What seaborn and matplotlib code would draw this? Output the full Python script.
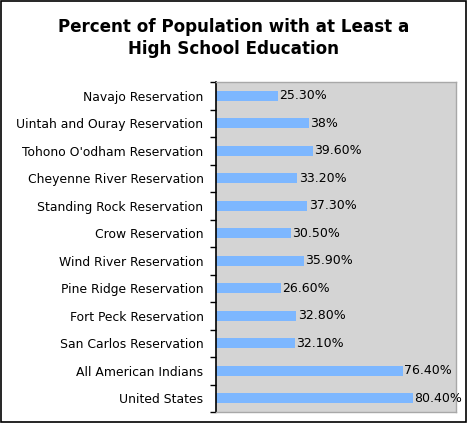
import matplotlib
matplotlib.use("Agg")
import matplotlib.pyplot as plt
import seaborn as sns
import pandas as pd
from matplotlib.patches import Rectangle

# data
places = ["Navajo Reservation", "Uintah and Ouray Reservation", "Tohono O'odham Reservation",
          "Cheyenne River Reservation", "Standing Rock Reservation", "Crow Reservation",
          "Wind River Reservation", "Pine Ridge Reservation", "Fort Peck Reservation",
          "San Carlos Reservation", "All American Indians", "United States"]
pct = [25.3, 38, 39.6, 33.2, 37.3, 30.5, 35.9, 26.6, 32.8, 32.1, 76.4, 80.4]
pct_labels = ["25.30%", "38%", "39.60%", "33.20%", "37.30%", "30.50%",
              "35.90%", "26.60%", "32.80%", "32.10%", "76.40%", "80.40%"]

df = pd.DataFrame({"place": places, "pct": pct})

sns.set_style("white")
plt.rcParams['font.family'] = ['DejaVu Sans']
plt.rcParams['text.color'] = 'black'
plt.rcParams['ytick.color'] = 'black'

fig = plt.figure(figsize=(4.68, 4.25), dpi=100)
ax = fig.add_axes([216/468, 1 - 412/425, 240/468, 330/425])
ax.set_facecolor("#d4d4d4")

sns.barplot(data=df, x="pct", y="place", color="#7db7ff", saturation=1,
            width=0.38, ax=ax, edgecolor="none")

ax.bar_label(ax.containers[0], labels=pct_labels, padding=1, fontsize=9, color="black")

ax.set_xlim(0, 98)
ax.set_ylim(11.5, -0.5)
ax.set_xlabel("")
ax.set_ylabel("")
ax.set_xticks([])
ax.tick_params(axis="y", which="major", left=False, length=0, labelsize=8.9, pad=9,
               labelcolor="black")
ax.set_yticks([i - 0.5 for i in range(13)], minor=True)
ax.tick_params(axis="y", which="minor", left=True, length=4, width=1, color="black",
               direction="out")

for side in ["top", "right", "bottom"]:
    ax.spines[side].set_color("#a8a8a8")
    ax.spines[side].set_linewidth(1)
ax.spines["left"].set_color("black")
ax.spines["left"].set_linewidth(1.2)

fig.text(0.5, 1 - 38/425, "Percent of Population with at Least a\nHigh School Education",
         ha="center", va="center", fontsize=12.1, fontweight="bold", linespacing=1.25,
         color="black")

fig.patches.append(Rectangle((1/468, 3/425), 465/468, 421/425, transform=fig.transFigure,
                             fill=False, edgecolor="black", linewidth=1.2))

fig.savefig("out.png", dpi=100)
